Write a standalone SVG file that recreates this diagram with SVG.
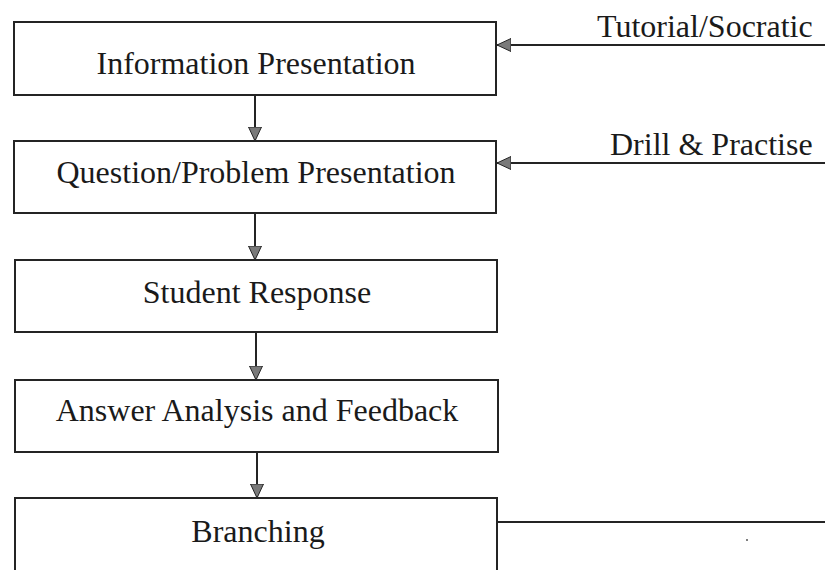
<svg xmlns="http://www.w3.org/2000/svg" width="825" height="570" viewBox="0 0 825 570">
  <style>
    .box { fill: #ffffff; stroke: #242424; stroke-width: 2; }
    .lbl { font-family: "Liberation Serif", "Times New Roman", serif; font-size: 32px; fill: #1a1a1a; }
    .mid { text-anchor: middle; }
    .wire { fill: none; stroke: #242424; stroke-width: 2; }
  </style>
  <defs>
    <marker id="head" markerUnits="userSpaceOnUse" markerWidth="16" markerHeight="14" refX="14" refY="6.5" orient="auto">
      <path d="M0,0 L14,6.5 L0,13 Z" fill="#7a7a7a" stroke="#242424" stroke-width="1"/>
    </marker>
  </defs>
  <rect width="825" height="570" fill="#ffffff"/>

  <g id="node-information">
    <rect class="box" x="14" y="22" width="482" height="73"/>
    <text class="lbl mid" x="256" y="74" font-family="Liberation Serif, serif">Information Presentation</text>
  </g>
  <g id="node-question">
    <rect class="box" x="14" y="141" width="482" height="72"/>
    <text class="lbl mid" x="256" y="183" font-family="Liberation Serif, serif">Question/Problem Presentation</text>
  </g>
  <g id="node-response">
    <rect class="box" x="15" y="260" width="482" height="72"/>
    <text class="lbl mid" x="257" y="303" font-family="Liberation Serif, serif">Student Response</text>
  </g>
  <g id="node-analysis">
    <rect class="box" x="15" y="380" width="483" height="72"/>
    <text class="lbl mid" x="257" y="421" font-family="Liberation Serif, serif">Answer Analysis and Feedback</text>
  </g>
  <g id="node-branching">
    <rect class="box" x="15" y="498" width="482" height="80"/>
    <text class="lbl mid" x="258" y="542" font-family="Liberation Serif, serif">Branching</text>
  </g>

  <g id="connectors">
    <line class="wire" x1="255" y1="95" x2="255" y2="141" marker-end="url(#head)"/>
    <line class="wire" x1="255" y1="213" x2="255" y2="260" marker-end="url(#head)"/>
    <line class="wire" x1="256" y1="332" x2="256" y2="380" marker-end="url(#head)"/>
    <line class="wire" x1="257" y1="452" x2="257" y2="498" marker-end="url(#head)"/>
    <line class="wire" x1="825" y1="45" x2="497" y2="45" marker-end="url(#head)"/>
    <line class="wire" x1="825" y1="163" x2="497" y2="163" marker-end="url(#head)"/>
    <line class="wire" x1="497" y1="522" x2="825" y2="522"/>
    <text class="lbl" x="597" y="37" font-family="Liberation Serif, serif">Tutorial/Socratic</text>
    <text class="lbl" x="610" y="155" font-family="Liberation Serif, serif">Drill &amp; Practise</text>
  </g>

  <circle cx="747" cy="540" r="1" fill="#555"/>
</svg>
